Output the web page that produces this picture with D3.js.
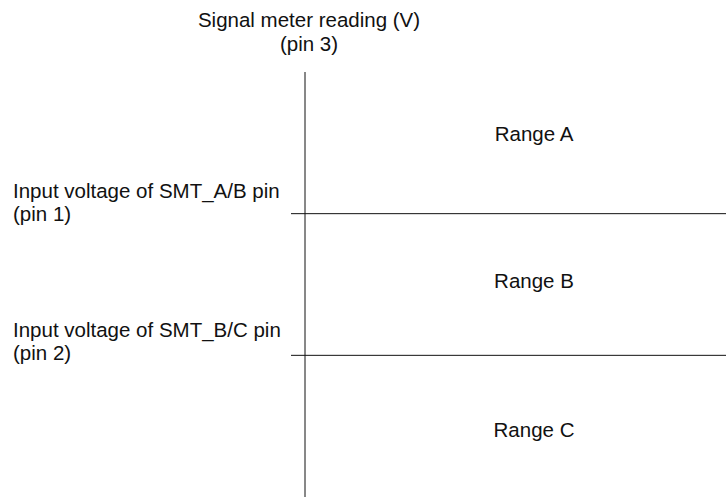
<!DOCTYPE html>
<html lang="en">
<head>
   <meta charset="UTF-8">
   <title>Signal meter ranges</title>
   <script src="https://cdn.jsdelivr.net/npm/d3@7"></script>
   <style>
      body { margin: 0; background: #fff; }
      text { font-family: "Liberation Sans", Arial, sans-serif; font-size: 20.5px; fill: #111; }
   </style>
</head>
<body>
   <div class="d3"></div>
   <script>
      // data
      const ranges = ['Range A', 'Range B', 'Range C']
      const axisTitle = ['Signal meter reading (V)', '(pin 3)']
      const thresholdLabels = [
         ['Input voltage of SMT_A/B pin', '(pin 1)'],
         ['Input voltage of SMT_B/C pin', '(pin 2)']
      ]
      // small nudges for the range labels (as they sit in the picture)
      const labelNudge = [-2, 3, 11]

      // setup
      const WIDTH = 726
      const HEIGHT = 498
      const AXIS_X = 305
      const TOP = 72
      const BOTTOM = 497

      const svg = d3.select('.d3').append('svg')
         .attr('width', WIDTH)
         .attr('height', HEIGHT)

      const y = d3.scaleBand()
         .domain(ranges)
         .range([TOP, BOTTOM])

      const x = d3.scaleLinear()
         .domain([0, 1])
         .range([AXIS_X - 14, WIDTH])

      // vertical axis
      svg.append('line')
         .attr('x1', AXIS_X).attr('x2', AXIS_X)
         .attr('y1', TOP).attr('y2', BOTTOM)
         .attr('stroke', '#111')
         .attr('stroke-width', 1)

      // axis title
      svg.append('text')
         .attr('text-anchor', 'middle')
         .selectAll('tspan')
         .data(axisTitle)
         .join('tspan')
            .attr('x', 309)
            .attr('y', (d, i) => 27 + i * 24)
            .text(d => d)

      // threshold lines between ranges
      const bounds = ranges.slice(1).map(r => y(r))

      svg.selectAll('line.threshold')
         .data(bounds)
         .join('line')
            .attr('class', 'threshold')
            .attr('x1', x(0)).attr('x2', x(1))
            .attr('y1', d => d).attr('y2', d => d)
            .attr('stroke', '#111')
            .attr('stroke-width', 1)

      // threshold labels
      svg.selectAll('text.threshold')
         .data(thresholdLabels)
         .join('text')
            .attr('class', 'threshold')
            .each(function (lines, i) {
               d3.select(this).selectAll('tspan')
                  .data(lines)
                  .join('tspan')
                     .attr('x', 13)
                     .attr('y', (d, j) => Math.round(bounds[i]) - 16 - i * 2 + j * 23)
                     .text(d => d)
            })

      // range labels
      svg.selectAll('text.range')
         .data(ranges)
         .join('text')
            .attr('class', 'range')
            .attr('x', 534)
            .attr('y', (d, i) => y(d) + y.bandwidth() / 2 + labelNudge[i])
            .attr('text-anchor', 'middle')
            .text(d => d)
   </script>
</body>
</html>
